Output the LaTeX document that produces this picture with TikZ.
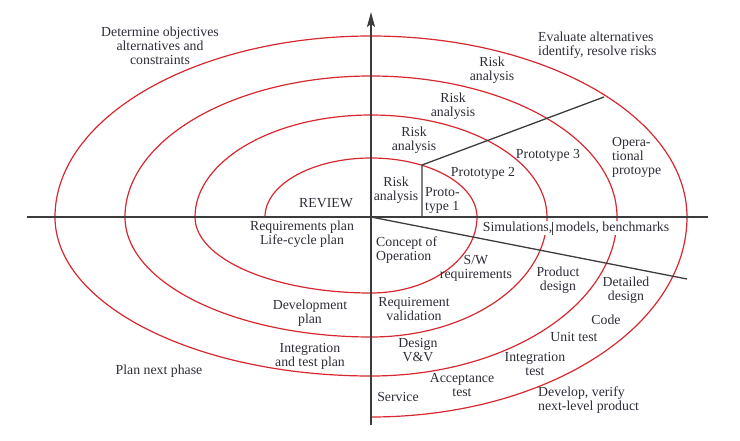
\documentclass[tikz,border=0pt]{standalone}
\usepackage{fontspec}
\setmainfont{Liberation Serif}
\usetikzlibrary{arrows.meta}
\definecolor{spiralRed}{RGB}{214,40,48}
\definecolor{axisGray}{RGB}{60,60,60}
\definecolor{textGray}{RGB}{45,45,55}

\begin{document}
\begin{tikzpicture}[x=1pt, y=1pt,
  phase/.style={font=\fontsize{13.8}{14}\selectfont, text=textGray, align=center, inner sep=1pt},
  phaseleft/.style={phase, align=left, anchor=west},
  axisline/.style={draw=axisGray, line width=1.8pt},
  divider/.style={draw=axisGray, line width=1.3pt},
  spiral/.style={draw=spiralRed, line width=1.2pt},
]
\useasboundingbox (-371,-223) rectangle (369,217);

% ===================================================================
% SPIRAL
% ===================================================================
\draw[spiral] (-106,0)
  \foreach \rx/\ryup/\rydown/\rxnext in {106/59/76/176, 176/102/120/246, 246/141/159/316} {
    arc[start angle=180, end angle=0, x radius=\rx, y radius=\ryup]
    arc[start angle=0, end angle=-90, x radius=\rx, y radius=\rydown]
    arc[start angle=-90, end angle=-180, x radius=\rxnext, y radius=\rydown]
  }
  arc[start angle=180, end angle=0, x radius=316, y radius=181]
  arc[start angle=0, end angle=-90, x radius=316, y radius=200];

% ===================================================================
% AXES AND DIVIDERS
% ===================================================================
\coordinate (O) at (0,0);
\coordinate (West) at (-344,0);
\coordinate (East) at (337,0);
\coordinate (South) at (0,-208);
\coordinate (North) at (0,205);
\coordinate (ProtoCorner) at (51,52);
\coordinate (ProtoBase) at (51,0);
\coordinate (ProtoEnd) at (233,120);
\coordinate (DesignEnd) at (316,-62);

\draw[axisline] (West) -- (East);
\draw[axisline, -{Stealth[length=15pt, width=8pt, inset=3pt]}] (South) -- (North);

\draw[divider] (ProtoBase) -- (ProtoCorner) -- (ProtoEnd);
\draw[divider] (O) -- (DesignEnd);

% ===================================================================
% QUADRANT TITLES
% ===================================================================
\node[phase] (Objectives) at (-211,171) {Determine objectives\\alternatives and\\constraints};
\node[phaseleft] (Evaluate) at (166,172) {Evaluate alternatives\\identify, resolve risks};
\node[phase] (NextPhase) at (-212,-154) {Plan next phase};
\node[phaseleft] (Develop) at (166,-183) {Develop, verify\\next-level product};

% ===================================================================
% RISK ANALYSIS AND PROTOTYPES
% ===================================================================
\node[phase] (Risk4) at (121,147) {Risk\\analysis};
\node[phase] (Risk3) at (82,111) {Risk\\analysis};
\node[phase] (Risk2) at (43,77) {Risk\\analysis};
\node[phase] (Risk1) at (25,27) {Risk\\analysis};

\node[phaseleft] (Proto1) at (53,17) {Proto-\\type 1};
\node[phase] (Proto2) at (112,44) {Prototype 2};
\node[phase] (Proto3) at (177,62) {Prototype 3};
\node[phaseleft] (ProtoOp) at (240,60) {Opera-\\tional\\protoype};

% ===================================================================
% PLANNING
% ===================================================================
\node[phase] (Review) at (-45,14) {REVIEW};
\node[phase] (ReqPlan) at (-69,-17) {Requirements plan\\Life-cycle plan};
\node[phase] (DevPlan) at (-61,-96) {Development\\plan};
\node[phase] (TestPlan) at (-61,-139) {Integration\\and test plan};

% ===================================================================
% ENGINEERING
% ===================================================================
\node[phase, fill=white] (Simulations) at (205,-11) {Simulations, models, benchmarks};
\draw[draw=axisGray, line width=0.8pt] (181,-5) -- (181,-18);

\node[phaseleft] (Concept) at (4,-33) {Concept of\\Operation};
\node[phase] (SWReq) at (105,-51) {S/W\\requirements};
\node[phase] (ProdDesign) at (187,-63) {Product\\design};
\node[phase] (DetDesign) at (255,-73) {Detailed\\design};
\node[phase] (ReqValid) at (43,-92) {Requirement\\validation};
\node[phase] (Code) at (235,-103) {Code};
\node[phase] (UnitTest) at (203,-120) {Unit test};
\node[phase] (DesignVV) at (47,-133) {Design\\V\&V};
\node[phase] (IntTest) at (164,-147) {Integration\\test};
\node[phase] (AccTest) at (91,-168) {Acceptance\\test};
\node[phase] (Service) at (27,-180) {Service};

\end{tikzpicture}
\end{document}
